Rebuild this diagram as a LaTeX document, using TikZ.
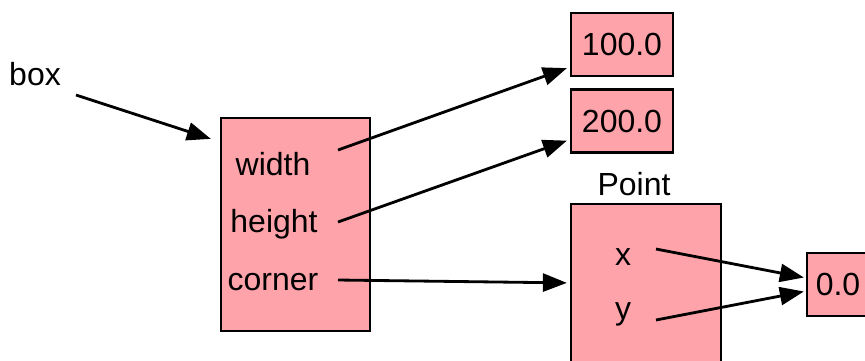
\documentclass[tikz,border=0pt]{standalone}
\usepackage{fontspec}
\setmainfont{Liberation Sans}
\usepackage{tikz}
\usetikzlibrary{arrows.meta, positioning, calc}
\definecolor{objpink}{HTML}{FFA3AB}

\begin{document}
\begin{tikzpicture}[x=0.02cm, y=-0.02cm,
    every node/.style={font=\fontsize{18.2}{22}\selectfont},
    objbox/.style={draw, line width=1.3pt, fill=objpink, inner sep=0pt},
    ptr/.style={-{Triangle[length=0.48cm, width=0.36cm]}, line width=1.6pt}]
    \useasboundingbox (0,0) rectangle (865,360);
    \clip (0,0) rectangle (865,360);

    % objects
    \node[objbox, minimum width=2.98cm, minimum height=4.26cm] (obj) at (295.5,224.5) {};
    \node[objbox, minimum width=2.04cm, minimum height=1.26cm] (v100) at (622,44.5) {100.0};
    \node[objbox, minimum width=2.04cm, minimum height=1.26cm] (v200) at (622,121) {200.0};
    \node[objbox, minimum width=3cm, minimum height=4.32cm] (pt) at (646,312) {};
    \node[objbox, minimum width=1.24cm, minimum height=1.26cm] (v0) at (838,284.5) {0.0};

    % labels and attributes
    \node[anchor=base] (lbl-box) at (35,85) {box};
    \node[anchor=base] (lbl-pt) at (634,195) {Point};
    \node[anchor=base] (f-width) at (273,175) {width};
    \node[anchor=base] (f-height) at (274,232) {height};
    \node[anchor=base] (f-corner) at (273,290) {corner};
    \node[anchor=base] (f-x) at (623,265) {x};
    \node[anchor=base] (f-y) at (623,319) {y};

    % references
    \coordinate (box-out) at (76,95);
    \coordinate (width-out) at (338,150);
    \coordinate (height-out) at (338,222);
    \coordinate (corner-out) at (338,280);
    \coordinate (x-out) at (656,249);
    \coordinate (y-out) at (656,320);

    \draw[ptr] (box-out) -- ($(obj.north west)+(-9,22)$);
    \draw[ptr] (width-out) -- ($(v100.south west)+(-3,-9)$);
    \draw[ptr] (height-out) -- ($(v200.south west)+(-3,-13)$);
    \draw[ptr] (corner-out) -- ($(pt.north west)+(-3,80)$);
    \draw[ptr] (x-out) -- ($(v0.west)+(-2,-7)$);
    \draw[ptr] (y-out) -- ($(v0.west)+(-2,7)$);
\end{tikzpicture}
\end{document}
